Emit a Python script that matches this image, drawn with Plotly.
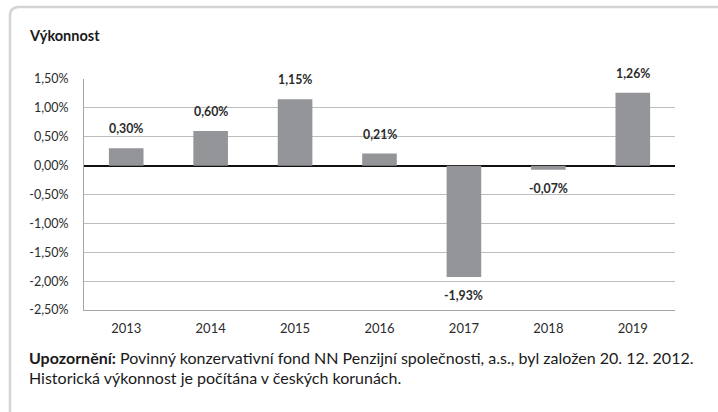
import plotly.graph_objects as go

years = ["2013", "2014", "2015", "2016", "2017", "2018", "2019"]
values = [0.30, 0.60, 1.15, 0.21, -1.93, -0.07, 1.26]
value_labels = ["0,30%", "0,60%", "1,15%", "0,21%", "-1,93%", "-0,07%", "1,26%"]
y_ticks = [1.5, 1.0, 0.5, 0.0, -0.5, -1.0, -1.5, -2.0, -2.5]
y_tick_labels = ["1,50%", "1,00%", "0,50%", "0,00%", "-0,50%", "-1,00%", "-1,50%", "-2,00%", "-2,50%"]
title_text = "Výkonnost"
note_line1 = "<b>Upozornění:</b> Povinný konzervativní fond NN Penzijní společnosti, a.s., byl založen 20. 12. 2012."
note_line2 = "Historická výkonnost je počítána v českých korunách."

W, H = 718, 412
PL, PR, PT, PB = 84, 675, 79, 310   # plot area in window pixels
L, T, R, B = PL, PT, W - PR, H - PB
pw, ph = PR - PL, PB - PT

def px_x(x):
    return (x - PL) / pw

def px_y(y):
    return 1 - (y - PT) / ph

FONT = "Lato, Carlito, 'Open Sans', sans-serif"
TXT = "#2b2b2b"

fig = go.Figure()
fig.add_trace(go.Bar(x=years, y=values, marker=dict(color="#939598", line=dict(width=0)),
                     hoverinfo="skip"))

for i, (v, lab) in enumerate(zip(values, value_labels)):
    fig.add_annotation(x=i, y=v, text="<b>%s</b>" % lab, showarrow=False,
                       yanchor="bottom" if v >= 0 else "top",
                       yshift=10 if v >= 0 else -9,
                       font=dict(family=FONT, size=12.3, color=TXT))

# title and notes
fig.add_annotation(xref="paper", yref="paper", x=px_x(27), y=px_y(35), text="<b>%s</b>" % title_text,
                   showarrow=False, xanchor="left", yanchor="middle",
                   font=dict(family=FONT, size=14.5, color="#1a1a1a"))
fig.add_annotation(xref="paper", yref="paper", x=px_x(27), y=px_y(357), text=note_line1,
                   showarrow=False, xanchor="left", yanchor="middle",
                   font=dict(family=FONT, size=16, color="#1a1a1a"))
fig.add_annotation(xref="paper", yref="paper", x=px_x(27), y=px_y(377), text=note_line2,
                   showarrow=False, xanchor="left", yanchor="middle",
                   font=dict(family=FONT, size=16, color="#1a1a1a"))

# card border
fig.add_shape(type="path", xref="paper", yref="paper",
              path="M %f %f L %f %f Q %f %f %f %f L %f %f" % (
                  px_x(10), px_y(430), px_x(10), px_y(16),
                  px_x(10), px_y(7), px_x(19), px_y(7),
                  px_x(740), px_y(7)),
              line=dict(color="#d4d4d4", width=2.5), layer="below")

fig.update_layout(
    width=W, height=H,
    margin=dict(l=L, r=R, t=T, b=B, pad=0),
    paper_bgcolor="white", plot_bgcolor="white",
    showlegend=False, bargap=0.59,
    font=dict(family=FONT, color=TXT, size=12),
    xaxis=dict(type="category", range=[-0.5, len(years) - 0.5],
               showgrid=False, showline=True, linecolor="#a6a6a6", linewidth=1,
               ticks="", tickfont=dict(size=13, color=TXT), ticklabelstandoff=6,
               automargin=False, fixedrange=True),
    yaxis=dict(range=[-2.5, 1.5], tickvals=y_ticks, ticktext=y_tick_labels,
               showgrid=True, gridcolor="#bdbdbd", gridwidth=1,
               showline=True, linecolor="#a6a6a6", linewidth=1,
               zeroline=True, zerolinecolor="#111111", zerolinewidth=2,
               ticks="", ticklabelstandoff=12, tickfont=dict(size=12.5, color=TXT),
               automargin=False, fixedrange=True),
)

fig.write_html("out.html", config={"displayModeBar": False},
               post_script="document.body.style.margin='0px';document.body.style.overflow='hidden';")
